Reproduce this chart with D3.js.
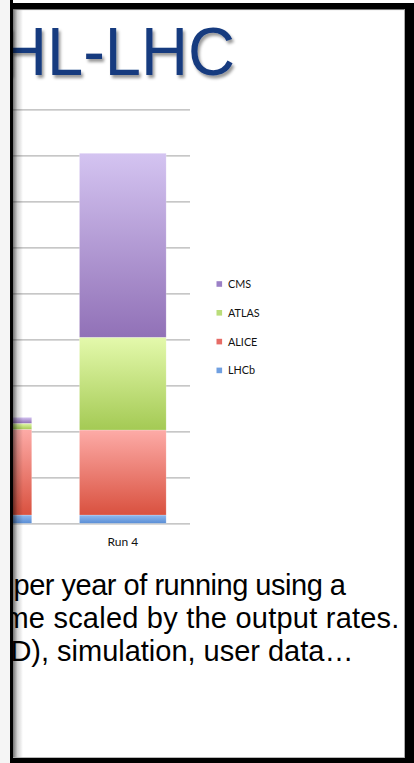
<!DOCTYPE html>
<html><head><meta charset="utf-8">
<script src="https://cdn.jsdelivr.net/npm/d3@7"></script>
<style>html,body{margin:0;padding:0;background:#fff;overflow:hidden}</style>
</head><body>
<svg id="c" width="414" height="763"></svg>
<script>
// ---- data ----
const categories = ["Run 3", "Run 4"];
const seriesNames = ["LHCb", "ALICE", "ATLAS", "CMS"];
const lhcbValues = [9, 9];
const aliceValues = [93.2, 92.4];
const atlasValues = [6.5, 100.8];
const cmsValues = [6.5, 200];
const yTicks = [0, 50, 100, 150, 200, 250, 300, 350, 400, 450];
const legendOrder = ["CMS", "ATLAS", "ALICE", "LHCb"];
const titleText = "HL-LHC";
const bodyLines = ["per year of running using a", "me scaled by the output rates.", "D), simulation, user data\u2026"];

// ---- styles ----
const grad = {
  CMS: ["#d4c4f1", "#9171b7"],
  ATLAS: ["#e4f9ac", "#a4ca54"],
  ALICE: ["#fdaba7", "#d9513f"],
  LHCb: ["#90b9ed", "#5a8ed6"]
};
const legendColor = { CMS: "#9b80c6", ATLAS: "#badd7a", ALICE: "#e66c66", LHCb: "#70a0e1" };

const svg = d3.select("#c");
const defs = svg.append("defs");
Object.keys(grad).forEach(k => {
  const g = defs.append("linearGradient").attr("id", "g_" + k).attr("x1", 0).attr("y1", 0).attr("x2", 0).attr("y2", 1);
  g.append("stop").attr("offset", "0%").attr("stop-color", grad[k][0]);
  g.append("stop").attr("offset", "100%").attr("stop-color", grad[k][1]);
});
const sh = defs.append("linearGradient").attr("id", "shadowL").attr("x1", 0).attr("x2", 1).attr("y1", 0).attr("y2", 0);
sh.append("stop").attr("offset", "0%").attr("stop-color", "#000").attr("stop-opacity", 0.55);
sh.append("stop").attr("offset", "45%").attr("stop-color", "#000").attr("stop-opacity", 0.18);
sh.append("stop").attr("offset", "100%").attr("stop-color", "#000").attr("stop-opacity", 0);
const f = defs.append("filter").attr("id", "tshadow").attr("x", "-10%").attr("y", "-10%").attr("width", "130%").attr("height", "140%");
f.append("feDropShadow").attr("dx", 2).attr("dy", 3).attr("stdDeviation", 1.6).attr("flood-color", "#000").attr("flood-opacity", 0.4);

svg.append("rect").attr("width", 414).attr("height", 763).attr("fill", "#fff");

// ---- title ----
svg.append("text")
  .attr("x", 0).attr("y", 75)
  .attr("font-family", "'Liberation Sans', Arial, sans-serif")
  .attr("font-size", 68)
  .attr("textLength", 235)
  .attr("lengthAdjust", "spacingAndGlyphs")
  .attr("fill", "#163a7f")
  .attr("filter", "url(#tshadow)")
  .text(titleText);

// ---- chart ----
const y = d3.scaleLinear().domain([0, 450]).range([523.3, 109.3]);
const x = d3.scaleBand().domain(categories).range([190 - 2 * 134.4, 190]).paddingInner(0.355).paddingOuter(0.1775);

const grid = svg.append("g").attr("transform", "translate(190,0)")
  .call(d3.axisLeft(y).tickValues(yTicks).tickSize(190).tickFormat(""));
grid.select(".domain").remove();
grid.selectAll(".tick line").attr("stroke", "#b4b4b4").attr("stroke-width", 1.3);

const rows = categories.map((c, i) => ({ cat: c, LHCb: lhcbValues[i], ALICE: aliceValues[i], ATLAS: atlasValues[i], CMS: cmsValues[i] }));
const stacked = d3.stack().keys(seriesNames)(rows);

svg.append("g").selectAll("g").data(stacked).join("g")
  .attr("fill", d => "url(#g_" + d.key + ")")
  .selectAll("rect").data(d => d).join("rect")
  .attr("x", d => x(d.data.cat))
  .attr("width", x.bandwidth())
  .attr("y", d => y(d[1]))
  .attr("height", d => y(d[0]) - y(d[1]))
  .attr("stroke", "#ffffff").attr("stroke-opacity", 0.35).attr("stroke-width", 0.6);

const xa = svg.append("g").attr("transform", "translate(0,523.3)")
  .call(d3.axisBottom(x).tickValues(categories.filter(c => x(c) + x.bandwidth() / 2 > 20)).tickSize(0).tickPadding(14));
xa.select(".domain").remove();
xa.selectAll("text").attr("font-family", "Lato, 'Open Sans', sans-serif").attr("font-size", 12).attr("fill", "#111");

// ---- legend ----
const lg = svg.append("g").selectAll("g").data(legendOrder).join("g")
  .attr("transform", (d, i) => `translate(216.5,${284 + i * 28.8})`);
lg.append("rect").attr("x", 0).attr("y", -2.8).attr("width", 5.6).attr("height", 5.6).attr("fill", d => legendColor[d]);
lg.append("text").attr("x", 11.5).attr("y", 3.9)
  .attr("font-family", "Lato, 'Open Sans', sans-serif").attr("font-size", 10.8).attr("fill", "#111")
  .text(d => d);

// ---- body text ----
const lineStarts = [13.5, 4.4, 10.4];
const lineLengths = [332.5, 395, 343];
svg.append("g").selectAll("text").data(bodyLines).join("text")
  .attr("x", (d, i) => lineStarts[i])
  .attr("y", (d, i) => 595 + i * 33)
  .attr("textLength", (d, i) => lineLengths[i])
  .attr("lengthAdjust", "spacing")
  .attr("font-family", "'Liberation Sans', Arial, sans-serif")
  .attr("font-size", 29)
  .attr("fill", "#000")
  .text(d => d);

// ---- frame ----
svg.append("rect").attr("x", 0).attr("y", 0).attr("width", 10).attr("height", 763).attr("fill", "#f5f5f5");
svg.append("rect").attr("x", 13).attr("y", 9.5).attr("width", 10).attr("height", 748).attr("fill", "url(#shadowL)");
svg.append("rect").attr("x", 10).attr("y", 0).attr("width", 3).attr("height", 763).attr("fill", "#000");
svg.append("rect").attr("x", 13).attr("y", 9.2).attr("width", 392).attr("height", 0.9).attr("fill", "#9a9a9a");
svg.append("rect").attr("x", 13).attr("y", 3).attr("width", 401).attr("height", 6.3).attr("fill", "#000");
svg.append("rect").attr("x", 404.2).attr("y", 9).attr("width", 0.9).attr("height", 749).attr("fill", "#9a9a9a");
svg.append("rect").attr("x", 405).attr("y", 3).attr("width", 9).attr("height", 760).attr("fill", "#000");
svg.append("rect").attr("x", 13).attr("y", 757.3).attr("width", 392).attr("height", 0.9).attr("fill", "#9a9a9a");
svg.append("rect").attr("x", 13).attr("y", 758).attr("width", 401).attr("height", 5).attr("fill", "#000");
</script>
</body></html>
